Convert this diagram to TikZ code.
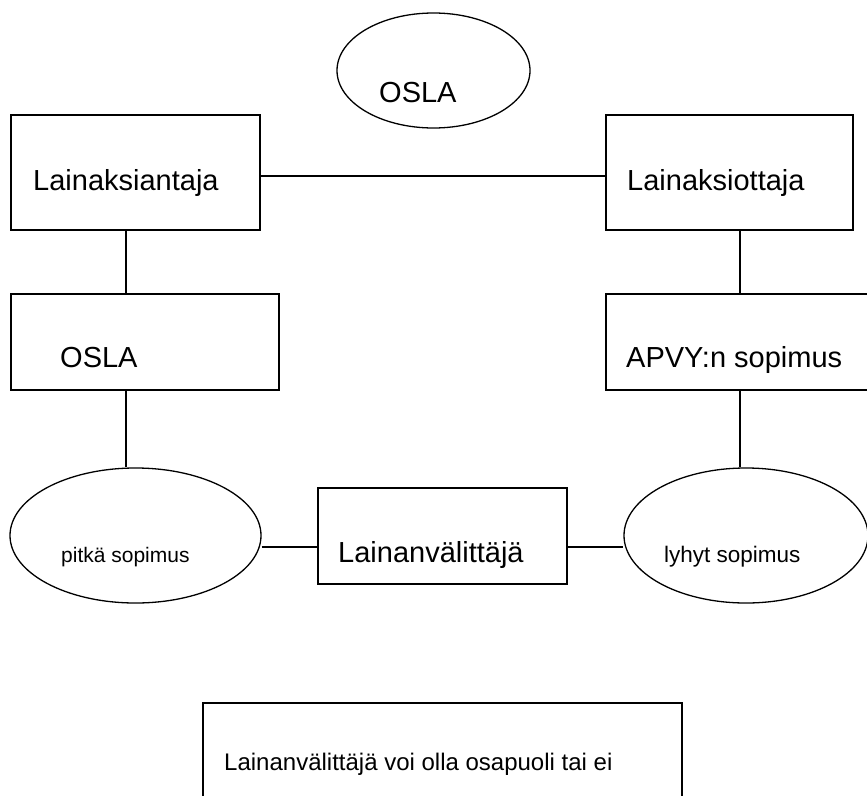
\documentclass[tikz,border=0pt]{standalone}
\usepackage{fontspec}
\setmainfont{Liberation Sans}
\usetikzlibrary{positioning, shapes.geometric}

\begin{document}
\begin{tikzpicture}
				[x=1pt, y=-1pt,
				party/.style={rectangle, draw=black, line width=1.3pt, inner sep=0pt},
				deal/.style={ellipse, draw=black, line width=1.3pt, inner sep=0pt},
				link/.style={draw=black, line width=1.3pt},
				bigtext/.style={inner sep=0pt, anchor=base west, font=\fontsize{29}{35}\selectfont},
				smalltext/.style={inner sep=0pt, anchor=base west, font=\fontsize{21}{25}\selectfont}]
				\useasboundingbox (0,0) rectangle (867,795);
				% shapes
				\node [deal, minimum width=193pt, minimum height=115pt] 		(osla top)		at (433.5,70.5)	{};
				\node [party, minimum width=249pt, minimum height=115pt]  	(antaja)			at (135.5,172.5)	{};
				\node [party, minimum width=247pt, minimum height=115pt]  	(ottaja)			at (729.5,172.5)	{};
				\node [party, minimum width=268pt, minimum height=96pt]  	(osla box)		at (145,342)		{};
				\node [party, minimum width=264pt, minimum height=96pt]  	(apvy)				at (738,342)		{};
				\node [deal, minimum width=251pt, minimum height=135pt] 		(pitka)				at (135.5,535.5)	{};
				\node [party, minimum width=249pt, minimum height=96pt]  	(valittaja)		at (442.5,536)		{};
				\node [deal, minimum width=244pt, minimum height=135pt] 		(lyhyt)				at (746,535.5)		{};
				\node [party, minimum width=479pt, minimum height=102pt]  	(note)				at (442.5,754)		{};
				% texts
				\node [bigtext]  	(osla top text)		at (379,102)		{OSLA};
				\node [bigtext]  	(antaja text)			at (33,190)		{Lainaksiantaja};
				\node [bigtext]  	(ottaja text)			at (627,190)		{Lainaksiottaja};
				\node [bigtext]  	(osla box text)		at (60,367)		{OSLA};
				\node [bigtext]  	(apvy text)				at (626,367)		{APVY:n sopimus};
				\node [smalltext] 	(pitka text)			at (61,562)		{pitkä sopimus};
				\node [bigtext]  	(valittaja text)		at (338,562)		{Lainanvälittäjä};
				\node [smalltext, font=\fontsize{22.5}{27}\selectfont] 	(lyhyt text)	at (664,562)	{lyhyt sopimus};
				\node [inner sep=0pt, anchor=base west, font=\fontsize{24}{29}\selectfont] 	(note text)	at (224,770)	{Lainanvälittäjä voi olla osapuoli tai ei};
				% connectors
				\coordinate (top line) at (0,176);
				\coordinate (bottom line) at (0,547);
				\coordinate (left line) at (126,0);
				\coordinate (right line) at (740,0);
				\draw [link] (antaja.east |- top line) -- (ottaja.west |- top line);
				\draw [link] (antaja.south -| left line) -- (osla box.north -| left line);
				\draw [link] (osla box.south -| left line) -- (pitka.north -| left line);
				\draw [link] (ottaja.south -| right line) -- (apvy.north -| right line);
				\draw [link] (apvy.south -| right line) -- (lyhyt.north -| right line);
				\draw [link] (pitka.east |- bottom line) -- (valittaja.west |- bottom line);
				\draw [link] (valittaja.east |- bottom line) -- (lyhyt.west |- bottom line);
			\end{tikzpicture}
\end{document}
